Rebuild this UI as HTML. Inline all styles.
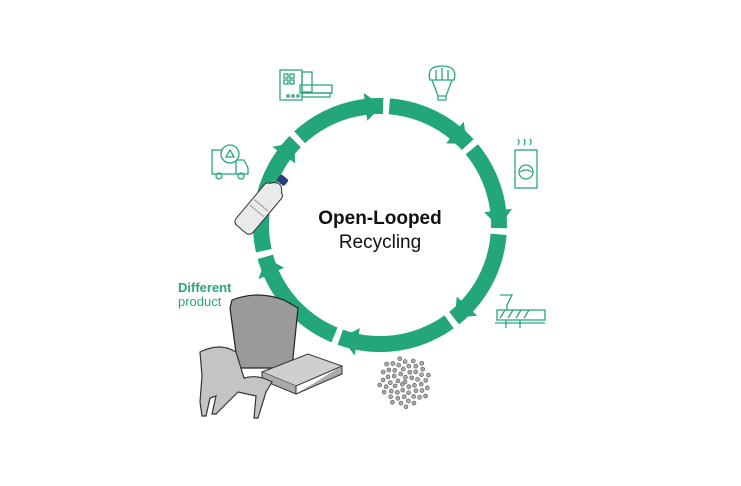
<!DOCTYPE html>
<html><head><meta charset="utf-8"><style>
html,body{margin:0;padding:0;background:#fff;width:741px;height:486px;overflow:hidden}
</style></head><body>
<svg id="s" width="741" height="486" viewBox="0 0 741 486" xmlns="http://www.w3.org/2000/svg">
<rect width="741" height="486" fill="#fff"/>
<g id="ring"></g>
<g fill="none" stroke="#2aa67c" stroke-width="1.3">
 <rect x="280" y="70" width="22" height="30"/><rect x="302" y="72" width="10" height="20"/>
 <rect x="300" y="85" width="32" height="8"/><rect x="302" y="93" width="28" height="4"/>
 <circle cx="288" cy="96" r="1.2"/><circle cx="293" cy="96" r="1.2"/><circle cx="298" cy="96" r="1.2"/>
 <rect x="284" y="74" width="4" height="4"/><rect x="290" y="74" width="4" height="4"/><rect x="284" y="80" width="4" height="4"/><rect x="290" y="80" width="4" height="4"/>
 <path d="M430 80 q-4-14 12-14 q16 0 12 14 z"/><path d="M432 80 l6 16 h8 l6-16"/><path d="M438 96 v4 h8 v-4"/>
 <path d="M436 70 v10 M442 68 v12 M448 70 v10"/>
 <rect x="515" y="150" width="22" height="38"/><circle cx="526" cy="172" r="7"/><path d="M520 172 q6-4 12 0"/>
 <path d="M518 145 q2-3 0-6 M524 145 q2-3 0-6 M530 145 q2-3 0-6"/>
 <path d="M500 295 h12 l-5 10 v5"/><rect x="497" y="310" width="48" height="10"/><path d="M500 318 l5-8 M508 318 l5-8 M516 318 l5-8 M524 318 l5-8"/>
 <path d="M495 323 h50 M506 320 v8 M520 320 v8"/>
 <rect x="212" y="150" width="24" height="24"/><path d="M236 160 h8 l4 8 v6 h-12"/><circle cx="219" cy="176" r="3"/><circle cx="241" cy="176" r="3"/>
 <circle cx="230" cy="154" r="9" fill="#fff"/><path d="M226 157 l4-7 l4 7 z"/>
</g>
<g fill="#aaa" stroke="#555" stroke-width="0.6" id="pel"></g>
<g transform="rotate(40 260 207)">
 <rect x="249" y="182" width="22" height="54" rx="5" fill="#e8eaec" stroke="#333" stroke-width="1"/>
 <path d="M252 183 q8-12 16 0" fill="#e8eaec" stroke="#333"/>
 <rect x="255" y="168" width="10" height="8" rx="2" fill="#2b3f78"/>
 <path d="M251 205 h18 M251 212 h18" stroke="#999"/>
</g>
<path d="M232 300 q25-10 52 0 l14 8 l-6 60 h-54 l-8-60 z" fill="#9a9a9a" stroke="#222" stroke-width="1.2"/>
<path d="M262 372 l46-18 l34 12 l-46 20 z" fill="#cfcfcf" stroke="#333"/>
<path d="M262 372 v8 l34 14 v-8 M342 366 v8 l-46 20" fill="#aaa" stroke="#333"/>
<path d="M200 352 q20-10 36 0 l8 26 q14-4 28 4 l-6 10 l-8 26 h-4 l2-22 l-18 -4 l-10 10 l-12 12 h-4 l4-18 l-6 2 l-4 18 h-4 l-2-14 l2-26 z" fill="#c4c4c4" stroke="#333" stroke-width="1.2"/>
<text x="380" y="224" text-anchor="middle" font-family="Liberation Sans, sans-serif" font-weight="bold" font-size="19" fill="#111">Open-Looped</text>
<text x="380" y="248" text-anchor="middle" font-family="Liberation Sans, sans-serif" font-size="19" fill="#111">Recycling</text>
<text x="178" y="292" font-family="Liberation Sans, sans-serif" font-weight="bold" font-size="13" fill="#2aa67c">Different</text>
<text x="178" y="306" font-family="Liberation Sans, sans-serif" font-size="13" fill="#2aa67c">product</text>
</svg>
<script>
var NS="http://www.w3.org/2000/svg",g=document.getElementById('ring');
var cx=380,cy=225,r=119,C="#22a67a";
function el(t,a){var e=document.createElementNS(NS,t);for(var k in a)e.setAttribute(k,a[k]);g.appendChild(e);return e;}
el('circle',{cx:cx,cy:cy,r:r,fill:'none',stroke:C,'stroke-width':16});
var angs=[-90,-44,0,50,108,163,-137];
function P(a,rr){a=a*Math.PI/180;return [cx+rr*Math.cos(a),cy+rr*Math.sin(a)];}
angs.forEach(function(a){
  var g1=P(a+1.5,r-12),g2=P(a+1.5,r+12),g3=P(a+4.5,r+12),g4=P(a+4.5,r-12);
  el('polygon',{points:[g1,g2,g3,g4].join(' '),fill:'#fff'});
  var b1=P(a-7,r-14),b2=P(a-7,r+14),t=P(a+1,r);
  el('polygon',{points:[b1,t,b2].join(' '),fill:C});
});
var pg=document.getElementById('pel');
for(var i=0;i<55;i++){var an=i*2.4,rr=3.4*Math.sqrt(i);
 var c=document.createElementNS(NS,'circle');c.setAttribute('cx',405+rr*Math.cos(an)*1.05);c.setAttribute('cy',382+rr*Math.sin(an));c.setAttribute('r',2);pg.appendChild(c);}
</script>
</body></html>
